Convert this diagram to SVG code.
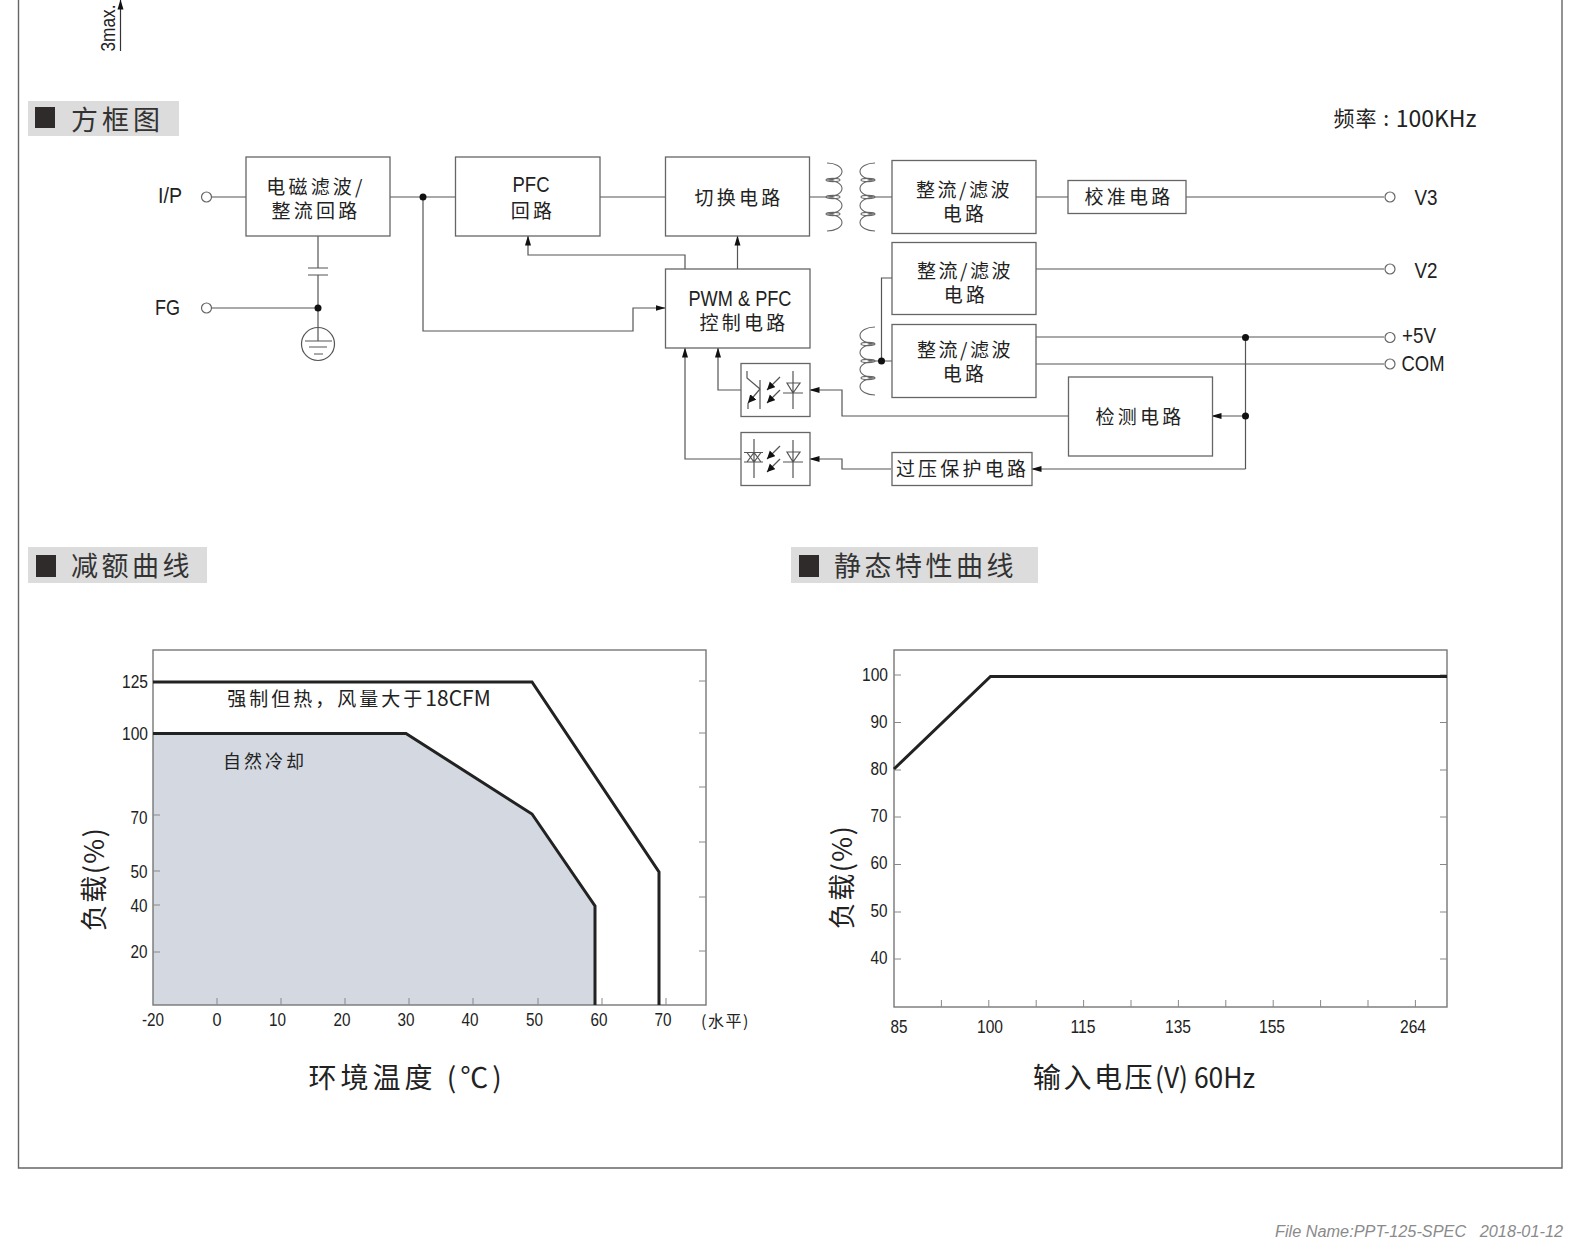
<svg xmlns="http://www.w3.org/2000/svg" width="1580" height="1250" viewBox="0 0 1580 1250">
<style>
text{font-family:"Liberation Sans","Noto Sans CJK SC",sans-serif;fill:#222;text-anchor:middle}
.cn{font-family:"Noto Sans CJK SC","Liberation Sans",sans-serif;font-size:19px;letter-spacing:3.2px;dominant-baseline:central}
.lat{font-size:22px;dominant-baseline:central}
.title{font-family:"Noto Sans CJK SC",sans-serif;font-size:27px;letter-spacing:3.5px;text-anchor:start;dominant-baseline:central;fill:#333}
.tick{font-size:18px;dominant-baseline:central}
.box{fill:#fff;stroke:#666;stroke-width:1.3}
.ln{fill:none;stroke:#555;stroke-width:1.2}
.sym{fill:none;stroke:#555;stroke-width:1.2}
.ter{fill:#fff;stroke:#666;stroke-width:1.2}
.dot{fill:#111}
.hd{fill:#dcdcdc}
.sq{fill:#2f2b2b}
.curve{fill:none;stroke:#222;stroke-width:3;stroke-linejoin:miter}
.axis{fill:none;stroke:#777;stroke-width:1.4}
.tk{fill:none;stroke:#888;stroke-width:1}
.coil{fill:none;stroke:#666;stroke-width:1.1}
</style>
<defs>
<marker id="ah" markerWidth="10" markerHeight="7" refX="9.5" refY="3.500" orient="auto" markerUnits="userSpaceOnUse"><path d="M0 0.500L10 3.500L0 6.500Z" fill="#111"/></marker>
<marker id="oh" markerWidth="9" markerHeight="9" refX="8" refY="4" orient="auto" markerUnits="userSpaceOnUse"><path d="M0 0L8 4L0 8Z" fill="#111"/></marker>
<path id="cp" class="coil" d="M827 163A15 8.500 0 0 1 827 180A15 8.500 0 0 1 827 197A15 8.500 0 0 1 827 214A15 8.500 0 0 1 827 231"/>
<g id="cs"><path class="coil" d="M875 0A15 8.500 0 0 0 875 17A15 8.500 0 0 0 875 34A15 8.500 0 0 0 875 51A15 8.500 0 0 0 875 68"/><ellipse class="coil" cx="868" cy="17" rx="7" ry="1.600"/><ellipse class="coil" cx="868" cy="34" rx="7" ry="1.600"/><ellipse class="coil" cx="868" cy="51" rx="7" ry="1.600"/></g>
<g id="led"><path class="sym" d="M793 0V38M783 22H803M787 12H800L793 22Z"/><path class="sym" marker-end="url(#oh)" d="M780 6L767 19"/><path class="sym" marker-end="url(#oh)" d="M780 19L767 32"/></g>
</defs>
<rect width="1580" height="1250" fill="#fff"/>
<path class="ln" style="stroke:#666;stroke-width:1.4" d="M18.500 0V1168H1562V0"/>
<g id="dimension"><path class="ln" marker-end="url(#ah)" style="stroke:#333" d="M120.500 51V0"/><text transform="translate(107.500 28) rotate(-90)" class="lat" style="font-size:20px" textLength="47" lengthAdjust="spacingAndGlyphs">3max.</text></g>
<g id="section-block"><rect class="hd" x="28" y="101" width="151" height="35"/><rect class="sq" x="35" y="107" width="20" height="21"/><text class="title" x="71" y="118" style="letter-spacing:4px">方框图</text></g>
<text x="1405" y="117" class="cn" style="font-size:21px;letter-spacing:1px" id="freq">频率 : <tspan style="font-size:23px;letter-spacing:0">100KHz</tspan></text>

<g id="connectors">
<path class="ln" d="M212 197H246M212 308H318M318 236V268M318 275V328M318 328V341"/>
<path class="sym" d="M308 268H328M308 275H328M305 341H332M309 347H327M314 354H323"/>
<path class="ln" d="M390 197H455M600 197H665M809 197H827M875 197H892M1036 197H1068M1186 197H1384M1036 269H1384M1036 337H1384M1036 364H1384"/>
<path class="ln" marker-end="url(#ah)" d="M423 197V331H633V308H665"/>
<path class="ln" marker-end="url(#ah)" d="M685 269V255H528V236"/>
<path class="ln" marker-end="url(#ah)" d="M737.500 269V236"/>
<path class="ln" d="M875 361H892M881.500 361V278H892"/>
<path class="ln" d="M1245.500 337V469"/>
<path class="ln" marker-end="url(#ah)" d="M1245.500 416H1212"/>
<path class="ln" marker-end="url(#ah)" d="M1245.500 469H1032"/>
<path class="ln" marker-end="url(#ah)" d="M1068 416H842V390H810"/>
<path class="ln" marker-end="url(#ah)" d="M891 469H842V459H810"/>
<path class="ln" marker-end="url(#ah)" d="M741 390H718V348"/>
<path class="ln" marker-end="url(#ah)" d="M741 459H685V348"/>
<circle class="dot" cx="318" cy="308" r="3.500"/><circle class="dot" cx="423" cy="197" r="3.500"/><circle class="dot" cx="881.500" cy="361" r="3.500"/><circle class="dot" cx="1245.500" cy="337.500" r="3.500"/><circle class="dot" cx="1245.500" cy="416" r="3.500"/>
</g>

<g id="n-ip"><circle class="ter" cx="206.500" cy="197" r="5"/><text class="lat" x="170" y="195" textLength="24" lengthAdjust="spacingAndGlyphs">I/P</text></g>
<g id="n-fg"><circle class="ter" cx="206.500" cy="308" r="5"/><text class="lat" x="167.500" y="307.500" textLength="25" lengthAdjust="spacingAndGlyphs">FG</text></g>
<g id="n-ground"><circle class="sym" cx="318" cy="344" r="16.500"/></g>
<g id="n-emi"><rect class="box" x="246" y="157" width="144" height="79"/><text class="cn" x="316" y="185.500">电磁滤波/</text><text class="cn" x="316" y="209.500">整流回路</text></g>
<g id="n-pfc"><rect class="box" x="455.500" y="157" width="144.500" height="79"/><text class="lat" x="531" y="184" textLength="37" lengthAdjust="spacingAndGlyphs">PFC</text><text class="cn" x="533" y="209.500">回路</text></g>
<g id="n-switch"><rect class="box" x="665.500" y="157" width="144" height="79"/><text class="cn" x="739" y="196">切换电路</text></g>
<g id="n-transformer"><use href="#cp"/><ellipse class="coil" cx="833" cy="180" rx="7" ry="1.600"/><ellipse class="coil" cx="833" cy="197" rx="7" ry="1.600"/><ellipse class="coil" cx="833" cy="214" rx="7" ry="1.600"/><use href="#cs" y="163"/><use href="#cs" y="327"/></g>
<g id="n-rect1"><rect class="box" x="892" y="160.500" width="144" height="73"/><text class="cn" x="964" y="188" style="letter-spacing:2.500px">整流/滤波</text><text class="cn" x="965" y="212">电路</text></g>
<g id="n-rect2"><rect class="box" x="892" y="242.500" width="144" height="72"/><text class="cn" x="965" y="269" style="letter-spacing:2.500px">整流/滤波</text><text class="cn" x="966" y="293">电路</text></g>
<g id="n-rect3"><rect class="box" x="892" y="324.500" width="144" height="73"/><text class="cn" x="965" y="348.500" style="letter-spacing:2.500px">整流/滤波</text><text class="cn" x="965" y="372.500">电路</text></g>
<g id="n-cal"><rect class="box" x="1068" y="180.500" width="118" height="33"/><text class="cn" x="1129" y="195.500">校准电路</text></g>
<g id="n-pwm"><rect class="box" x="665.500" y="269" width="144.500" height="79"/><text class="lat" x="740" y="298" textLength="103" lengthAdjust="spacingAndGlyphs">PWM &amp; PFC</text><text class="cn" x="744" y="321">控制电路</text></g>
<g id="n-opto1"><rect class="box" x="741" y="363.500" width="69" height="53"/><use href="#led" y="371"/><path class="sym" d="M760 380V409M747 371V378L760 389"/><path class="sym" marker-end="url(#oh)" d="M760 389L748 403"/><path class="sym" d="M748 403V409"/></g>
<g id="n-opto2"><rect class="box" x="741" y="432.500" width="69" height="53"/><use href="#led" y="440"/><path class="sym" d="M754 439V478M744 452.500H763M744 462H763M747 452.500L754 462L761 452.500M747 462L754 452.500L761 462"/></g>
<g id="n-ovp"><rect class="box" x="892" y="452.500" width="140" height="33"/><text class="cn" x="962.500" y="467.500">过压保护电路</text></g>
<g id="n-detect"><rect class="box" x="1068.500" y="377" width="144" height="79"/><text class="cn" x="1140" y="415.500">检测电路</text></g>
<g id="n-v3"><circle class="ter" cx="1390" cy="197" r="5"/><text class="lat" x="1426" y="197" textLength="23" lengthAdjust="spacingAndGlyphs">V3</text></g>
<g id="n-v2"><circle class="ter" cx="1390" cy="269" r="5"/><text class="lat" x="1426" y="270" textLength="23" lengthAdjust="spacingAndGlyphs">V2</text></g>
<g id="n-5v"><circle class="ter" cx="1390" cy="337.500" r="5"/><text class="lat" x="1419" y="335.500" textLength="34" lengthAdjust="spacingAndGlyphs">+5V</text></g>
<g id="n-com"><circle class="ter" cx="1390" cy="364" r="5"/><text class="lat" x="1423" y="363.500" textLength="43" lengthAdjust="spacingAndGlyphs">COM</text></g>

<g id="section-derate"><rect class="hd" x="28" y="547" width="179" height="36"/><rect class="sq" x="36" y="555" width="20" height="22"/><text class="title" x="71" y="564.500" style="letter-spacing:3.500px">减额曲线</text></g>
<g id="section-static"><rect class="hd" x="791" y="547" width="247" height="36"/><rect class="sq" x="799" y="555" width="20" height="22"/><text class="title" x="834" y="564.500" style="letter-spacing:3.500px">静态特性曲线</text></g>

<g id="chart-left">
<path d="M153 733.500H406L532 814L595 906V1005H153Z" fill="#d3d8e1"/>
<rect class="axis" x="153" y="650" width="553" height="355"/>
<path class="tk" d="M153 815H160M153 871H160M153 905H160M153 952H160M706 681H699M706 733H699M706 787H699M706 842H699M706 897H699M706 951H699M217 1005V998M281 1005V998M345 1005V998M409 1005V998M473 1005V998M538 1005V998M602 1005V998M666 1005V998"/>
<path class="curve" d="M153 682H532L659 872V1005"/>
<path class="curve" d="M153 733.500H406L532 814L595 906V1005"/>
<g>
<text class="tick" x="135" y="682" textLength="26" lengthAdjust="spacingAndGlyphs">125</text><text class="tick" x="135" y="734" textLength="26" lengthAdjust="spacingAndGlyphs">100</text><text class="tick" x="139" y="818" textLength="17" lengthAdjust="spacingAndGlyphs">70</text><text class="tick" x="139" y="871.500" textLength="17" lengthAdjust="spacingAndGlyphs">50</text><text class="tick" x="139" y="905.500" textLength="17" lengthAdjust="spacingAndGlyphs">40</text><text class="tick" x="139" y="952" textLength="17" lengthAdjust="spacingAndGlyphs">20</text>
<text class="tick" x="153" y="1019.500" textLength="22" lengthAdjust="spacingAndGlyphs">-20</text><text class="tick" x="217" y="1019.500" textLength="9" lengthAdjust="spacingAndGlyphs">0</text><text class="tick" x="277.500" y="1019.500" textLength="17" lengthAdjust="spacingAndGlyphs">10</text><text class="tick" x="342" y="1019.500" textLength="17" lengthAdjust="spacingAndGlyphs">20</text><text class="tick" x="406" y="1019.500" textLength="17" lengthAdjust="spacingAndGlyphs">30</text><text class="tick" x="470" y="1019.500" textLength="17" lengthAdjust="spacingAndGlyphs">40</text><text class="tick" x="534.500" y="1019.500" textLength="17" lengthAdjust="spacingAndGlyphs">50</text><text class="tick" x="599" y="1019.500" textLength="17" lengthAdjust="spacingAndGlyphs">60</text><text class="tick" x="663" y="1019.500" textLength="17" lengthAdjust="spacingAndGlyphs">70</text></g>
<text class="cn" x="725.500" y="1020" style="font-size:16px;letter-spacing:1.500px">(水平)</text>
<text class="cn" x="359" y="697" style="font-size:19px;letter-spacing:3px">强制但热，风量大于<tspan style="font-size:21px;letter-spacing:0">18CFM</tspan></text>
<text class="cn" x="265" y="760" style="font-size:18px;letter-spacing:3px">自然冷却</text>
<text class="cn" transform="translate(92.500 879) rotate(-90)" style="font-size:27px;letter-spacing:1.500px">负载(%)</text>
<text class="cn" x="407" y="1075.500" style="font-size:28px;letter-spacing:4px">环境温度 (℃)</text>
</g>

<g id="chart-right">
<rect class="axis" x="894" y="650" width="553" height="357"/>
<path class="tk" d="M894 675H901M894 722.500H901M894 770H901M894 817H901M894 864.500H901M894 912H901M894 959H901M1447 675H1440M1447 722.500H1440M1447 770H1440M1447 817H1440M1447 864.500H1440M1447 912H1440M1447 959H1440M941.400 1007V1000M988.800 1007V1000M1036.200 1007V1000M1083.600 1007V1000M1131 1007V1000M1178.400 1007V1000M1225.800 1007V1000M1273.200 1007V1000M1320.600 1007V1000M1368 1007V1000M1415.400 1007V1000"/>
<path class="curve" d="M894 769L990.500 676.500H1447"/>
<text class="tick" x="875" y="674.500" textLength="26" lengthAdjust="spacingAndGlyphs">100</text><text class="tick" x="879" y="721.500" textLength="17" lengthAdjust="spacingAndGlyphs">90</text><text class="tick" x="879" y="769" textLength="17" lengthAdjust="spacingAndGlyphs">80</text><text class="tick" x="879" y="816" textLength="17" lengthAdjust="spacingAndGlyphs">70</text><text class="tick" x="879" y="863" textLength="17" lengthAdjust="spacingAndGlyphs">60</text><text class="tick" x="879" y="911" textLength="17" lengthAdjust="spacingAndGlyphs">50</text><text class="tick" x="879" y="958" textLength="17" lengthAdjust="spacingAndGlyphs">40</text>
<text class="tick" x="899" y="1027" textLength="17" lengthAdjust="spacingAndGlyphs">85</text><text class="tick" x="990" y="1027" textLength="26" lengthAdjust="spacingAndGlyphs">100</text><text class="tick" x="1083" y="1027" textLength="25" lengthAdjust="spacingAndGlyphs">115</text><text class="tick" x="1178" y="1027" textLength="26" lengthAdjust="spacingAndGlyphs">135</text><text class="tick" x="1272" y="1027" textLength="26" lengthAdjust="spacingAndGlyphs">155</text><text class="tick" x="1413" y="1027" textLength="26" lengthAdjust="spacingAndGlyphs">264</text>
<text class="cn" transform="translate(840.500 877) rotate(-90)" style="font-size:27px;letter-spacing:1.500px">负载(%)</text>
<text class="cn" x="1144" y="1075.500" style="font-size:28px;letter-spacing:2.500px">输入电压<tspan style="letter-spacing:0;font-size:28px" textLength="100" lengthAdjust="spacingAndGlyphs">(V) 60Hz</tspan></text>
</g>
<text id="footer" x="1419" y="1231" style="font-size:16px;font-style:italic;fill:#8a8a8a;dominant-baseline:central" textLength="288" lengthAdjust="spacingAndGlyphs" xml:space="preserve">File Name:PPT-125-SPEC   2018-01-12</text>
</svg>
